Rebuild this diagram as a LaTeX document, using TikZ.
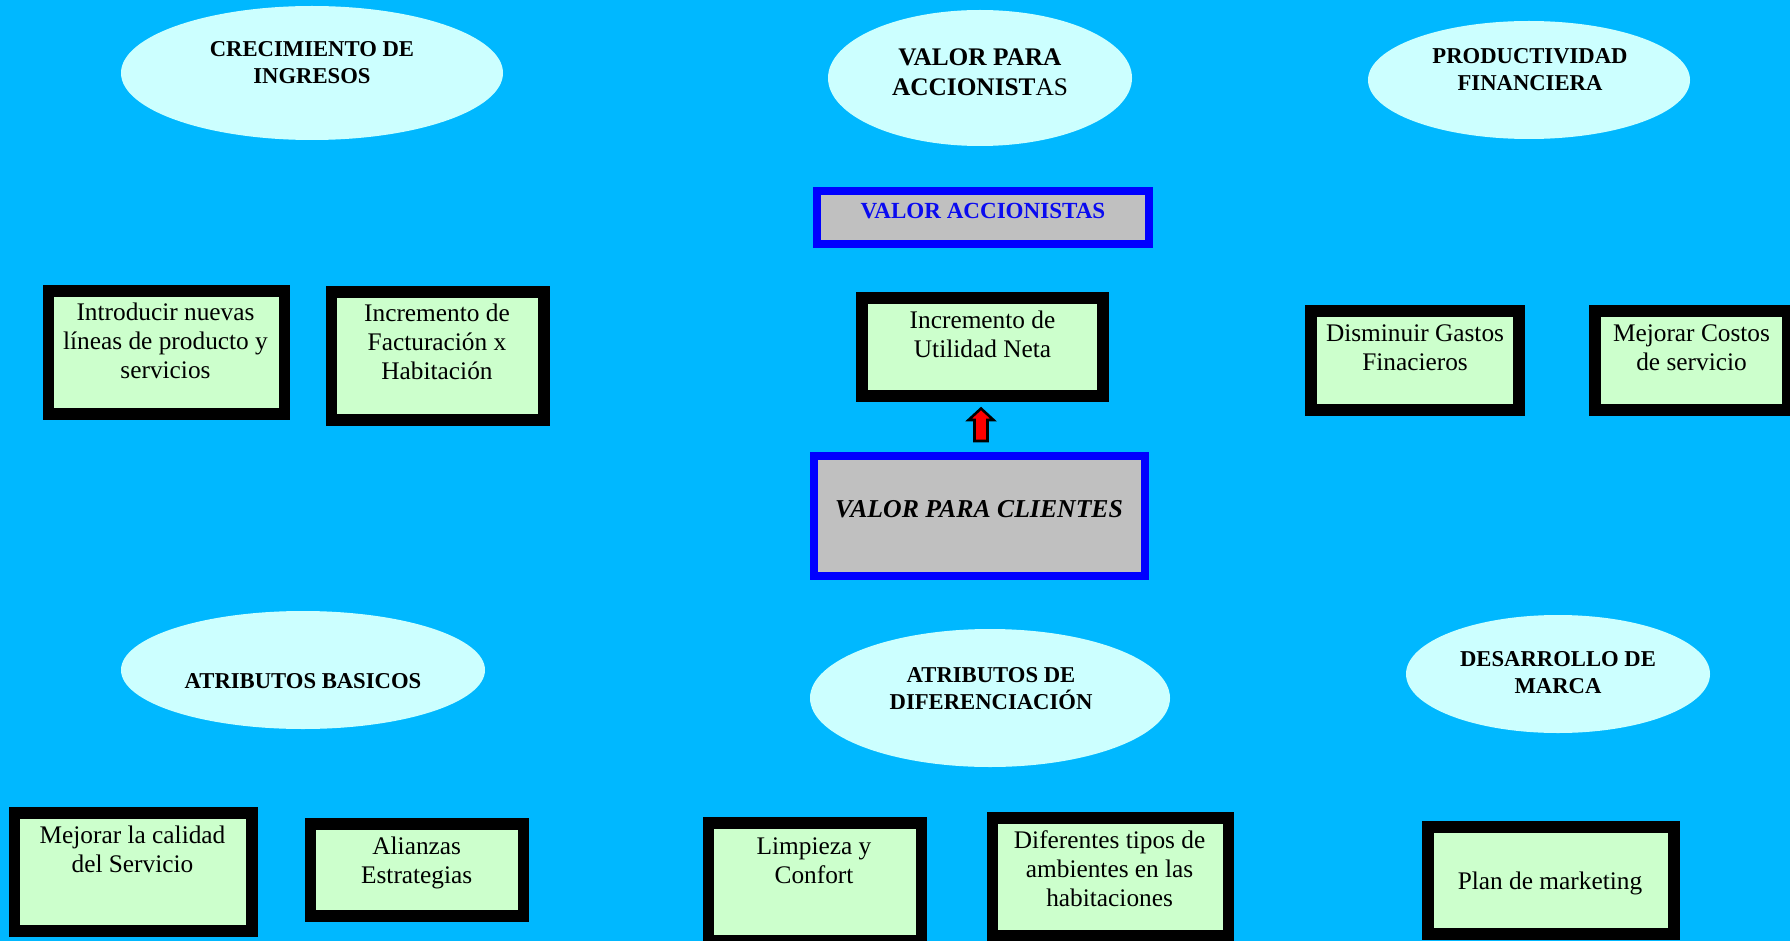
\documentclass[tikz,border=0pt]{standalone}
\usepackage{fontspec}
\setmainfont{Liberation Serif}
\usetikzlibrary{shapes.geometric}
\definecolor{bg}{RGB}{0,184,255}
\definecolor{ellfill}{RGB}{204,255,255}
\definecolor{boxgreen}{RGB}{204,255,204}
\definecolor{boxgray}{RGB}{192,192,192}
\definecolor{titleblue}{RGB}{10,10,240}
\begin{document}
\begin{tikzpicture}[x=0.75pt,y=-0.75pt,
  sz/.style 2 args={minimum width=#1*0.75pt, minimum height=#2*0.75pt},
  ell/.style={ellipse, fill=ellfill, inner sep=0},
  gbox/.style={draw=black, fill=boxgreen, line width=8.8pt, inner sep=0},
  bbox/.style={draw=blue, fill=boxgray, line width=6pt, inner sep=0},
  etxt/.style={font=\fontsize{17}{20}\selectfont\bfseries, align=center, inner sep=0},
  btxt/.style={font=\fontsize{19}{21.8}\selectfont, align=center, inner sep=0},
  arrowshape/.style={fill=red, draw=black, line width=1.9pt, line join=miter}
]
\useasboundingbox (0,0) rectangle (1790,941);
\clip (0,0) rectangle (1790,941);
\fill[bg] (0,0) rectangle (1790,941);

% ellipses
\node[ell, sz={382}{134}] (e1) at (312,73) {};
\node[ell, sz={304}{136}] (e2) at (980,78) {};
\node[ell, sz={322}{118}] (e3) at (1529,80) {};
\node[ell, sz={364}{118}] (e4) at (303,670) {};
\node[ell, sz={360}{138}] (e5) at (990,698) {};
\node[ell, sz={304}{118}] (e6) at (1558,674) {};

\node[etxt] (t1) at (312,62.5) {CRECIMIENTO DE\\INGRESOS};
\node[etxt, font=\fontsize{19}{22.8}\selectfont\bfseries] (t2) at (980,72.5) {VALOR PARA\\ACCIONIST\mdseries AS};
\node[etxt] (t3) at (1530,69.5) {PRODUCTIVIDAD\\FINANCIERA};
\node[etxt] (t4) at (303,681) {ATRIBUTOS BASICOS};
\node[etxt] (t5) at (991,688.5) {ATRIBUTOS DE\\DIFERENCIACIÓN};
\node[etxt] (t6) at (1558,672.5) {DESARROLLO DE\\MARCA};

% blue boxes
\node[bbox, sz={332}{53}] (va) at (983,217.5) {};
\node[font=\fontsize{17.3}{20}\selectfont\bfseries, text=titleblue, inner sep=0] (vat) at (983,211) {VALOR ACCIONISTAS};
\node[bbox, sz={331}{120}] (vc) at (979.5,516) {};
\node[font=\fontsize{19.3}{22}\selectfont\bfseries\itshape, inner sep=0] (vct) at (979,509.5) {VALOR PARA CLIENTES};

% green boxes
\node[gbox, sz={236}{123}] (b1) at (166.5,352.5) {};
\node[btxt] (b1t) at (165.5,341) {Introducir nuevas\\líneas de producto y\\servicios};
\node[gbox, sz={212.5}{128}] (b2) at (437.8,356) {};
\node[btxt] (b2t) at (437,342) {Incremento de\\Facturación x\\Habitación};
\node[gbox, sz={241.5}{98.5}] (b3) at (982.5,347) {};
\node[btxt] (b3t) at (982.5,334) {Incremento de\\Utilidad Neta};
\node[gbox, sz={208.5}{99.5}] (b4) at (1415,360.5) {};
\node[btxt] (b4t) at (1415,347.5) {Disminuir Gastos\\Finacieros};
\node[gbox, sz={193.5}{99.5}] (b5) at (1691.5,360.5) {};
\node[btxt] (b5t) at (1691.5,347.5) {Mejorar Costos\\de servicio};
\node[gbox, sz={237.4}{118}] (b6) at (133.3,872) {};
\node[btxt] (b6t) at (132.5,849) {Mejorar la calidad\\del Servicio};
\node[gbox, sz={213}{92}] (b7) at (416.9,870) {};
\node[btxt] (b7t) at (416.7,863) {Alianzas\\Estrategias};
\node[gbox, sz={213}{118}] (b8) at (815,882) {};
\node[btxt] (b8t) at (814,861) {Limpieza y\\Confort};
\node[gbox, sz={236}{118}] (b9) at (1110.5,877) {};
\node[btxt] (b9t) at (1109.6,869) {Diferentes tipos de\\ambientes en las\\habitaciones};
\node[gbox, sz={246.5}{107.5}] (b10) at (1551,880.5) {};
\node[btxt] (b10t) at (1550,883.5) {Plan de marketing};

% block arrow
\coordinate (ar) at (981,408.5);
\draw[arrowshape] (ar) -- ++(12.5,11.5) -- ++(-6,0) -- ++(0,21) -- ++(-13,0) -- ++(0,-21) -- ++(-6,0) -- cycle;
\end{tikzpicture}
\end{document}
